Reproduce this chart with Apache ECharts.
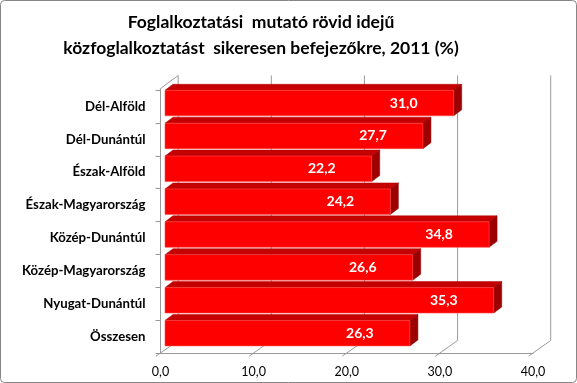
<!DOCTYPE html>
<html>
<head>
<meta charset="utf-8">
<script src="https://cdn.jsdelivr.net/npm/echarts@6/dist/echarts.min.js"></script>
<style>
html,body{margin:0;padding:0;background:#fff;}
#c{width:577px;height:383px;}
</style>
</head>
<body>
<div id="c"></div>
<script>
const titleLines = ['Foglalkoztatási  mutató rövid idejű', 'közfoglalkoztatást  sikeresen befejezőkre, 2011 (%)'];
const categories = ['Dél-Alföld','Dél-Dunántúl','Észak-Alföld','Észak-Magyarország','Közép-Dunántúl','Közép-Magyarország','Nyugat-Dunántúl','Összesen'];
const values = [31.0, 27.7, 22.2, 24.2, 34.8, 26.6, 35.3, 26.3];
const xTicks = [0, 10, 20, 30, 40];

const FONT = 'Lato';
const WALL_DX = 17.7, WALL_DY = -12.5;
const BAR_DX = 8, BAR_DY = -6, BAR_SHIFT = 4.5;
const GRID_COLOR = '#9a9a9a';
const fmt = v => v.toFixed(1).replace('.', ',');

const chart = echarts.init(document.getElementById('c'), null, {renderer: 'canvas'});

chart.setOption({
  animation: false,
  backgroundColor: '#fff',
  graphic: [
    {
      type: 'rect', z: 100, silent: true,
      shape: {x: 0.5, y: 0.5, width: 576, height: 382, r: 4},
      style: {fill: 'none', stroke: '#868686', lineWidth: 1}
    },
    {
      type: 'text', z: 100, silent: true, x: 261, y: 22,
      style: {text: titleLines[0], font: 'bold 17.5px ' + FONT, fill: '#000', align: 'center', verticalAlign: 'middle'}
    },
    {
      type: 'text', z: 100, silent: true, x: 261, y: 48,
      style: {text: titleLines[1], font: 'bold 17.5px ' + FONT, fill: '#000', align: 'center', verticalAlign: 'middle'}
    }
  ],
  grid: {left: 160.5, top: 90, width: 372.5, height: 263, containLabel: false},
  xAxis: {
    type: 'value', min: 0, max: 40, interval: 10,
    axisLine: {show: true, lineStyle: {color: GRID_COLOR}},
    axisTick: {show: false},
    splitLine: {show: false},
    axisLabel: {formatter: v => fmt(v), fontFamily: FONT, fontSize: 12.5, color: '#000', margin: 12}
  },
  yAxis: {
    type: 'category', inverse: true, data: categories,
    axisLine: {show: true, lineStyle: {color: GRID_COLOR}},
    axisTick: {show: true, length: 5, lineStyle: {color: GRID_COLOR}},
    axisLabel: {fontFamily: FONT, fontSize: 13.2, fontWeight: 'bold', color: '#000', margin: 15}
  },
  series: [
    {
      type: 'custom',
      z: 1,
      silent: true,
      data: xTicks.map(v => [v]),
      encode: {x: 0},
      renderItem: function (params, api) {
        const cs = params.coordSys;
        const v = api.value(0);
        const x = api.coord([v, 0])[0];
        const yb = cs.y + cs.height;
        const children = [
          {type: 'line', shape: {x1: x + WALL_DX, y1: cs.y - 14.5, x2: x + WALL_DX, y2: yb + WALL_DY}, style: {stroke: GRID_COLOR, lineWidth: 1}},
          {type: 'line', shape: {x1: x - 4.5, y1: yb + 3.2, x2: x + WALL_DX, y2: yb + WALL_DY}, style: {stroke: GRID_COLOR, lineWidth: 1}}
        ];
        if (v === 0) {
          children.push({type: 'line', shape: {x1: x, y1: cs.y - 1.5, x2: x + WALL_DX, y2: cs.y - 14.5}, style: {stroke: GRID_COLOR, lineWidth: 1}});
          children.push({type: 'line', shape: {x1: x, y1: cs.y - 1.5, x2: x, y2: cs.y}, style: {stroke: GRID_COLOR, lineWidth: 1}});
        }
        return {type: 'group', children: children};
      }
    },
    {
      type: 'custom',
      z: 5,
      data: values.map((v, i) => [v, i]),
      encode: {x: 0, y: 1},
      renderItem: function (params, api) {
        const v = api.value(0), idx = api.value(1);
        const p0 = api.coord([0, idx]);
        const p1 = api.coord([v, idx]);
        const band = api.size([0, 1])[1];
        const x0 = p0[0] + BAR_SHIFT, x1 = p1[0] + BAR_SHIFT;
        const yT = p0[1] - band / 2 + 0.3;
        const h = band * 0.775;
        return {
          type: 'group',
          children: [
            {type: 'polygon', shape: {points: [[x0, yT], [x0 + BAR_DX, yT + BAR_DY], [x1 + BAR_DX, yT + BAR_DY], [x1, yT]]}, style: {fill: '#c40000', stroke: '#b80000', lineWidth: 0.5}},
            {type: 'polygon', shape: {points: [[x1, yT], [x1 + BAR_DX, yT + BAR_DY], [x1 + BAR_DX, yT + h + BAR_DY], [x1, yT + h]]}, style: {fill: '#9c0000', stroke: '#900000', lineWidth: 0.5}},
            {type: 'rect', shape: {x: x0, y: yT, width: x1 - x0, height: h}, style: {fill: '#ff0000', stroke: '#ff4a4a', lineWidth: 0.6}},
            {type: 'text', style: {x: x1 - 50, y: yT + h / 2, text: fmt(v), fill: '#fff', font: 'bold 14px ' + FONT, align: 'center', verticalAlign: 'middle'}}
          ]
        };
      }
    }
  ]
});
</script>
</body>
</html>
